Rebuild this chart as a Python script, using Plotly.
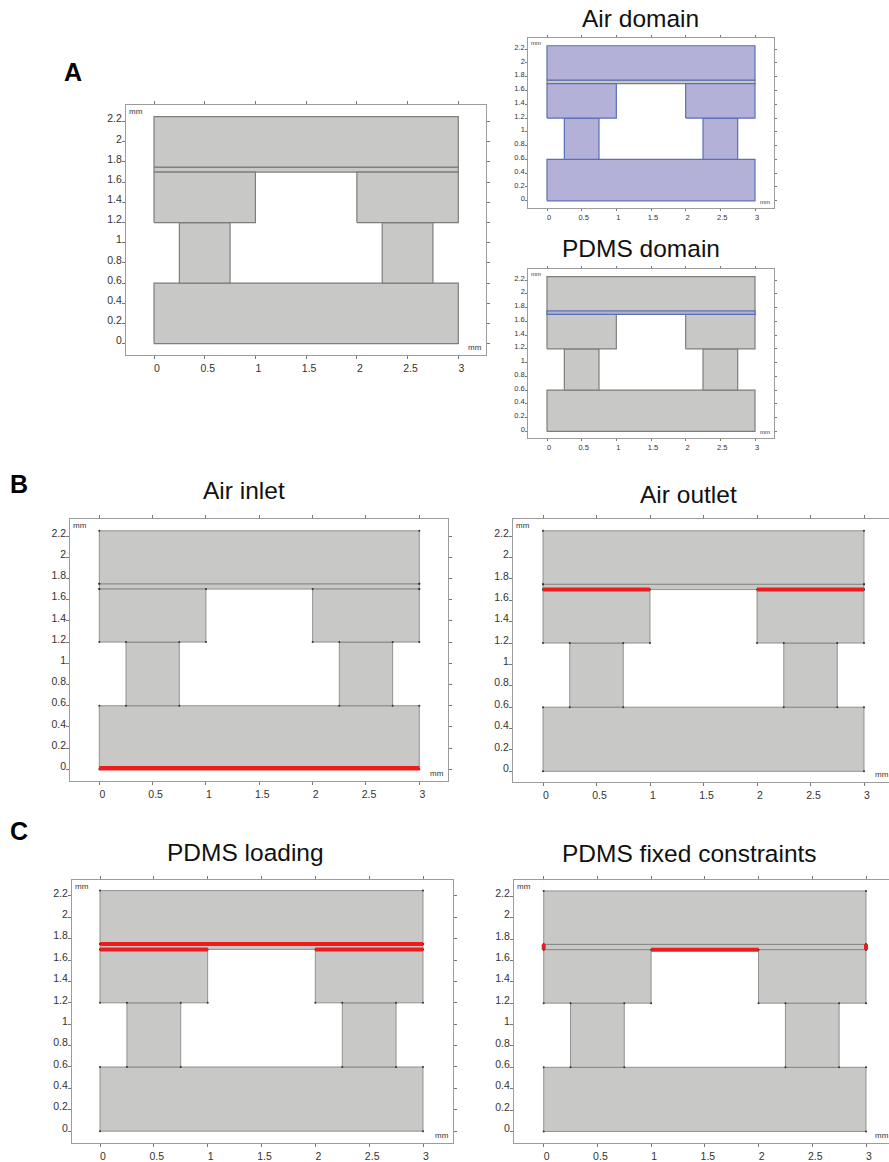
import plotly.graph_objects as go

# ---------- data (mm) ----------
Y_TICKS = [0, 0.2, 0.4, 0.6, 0.8, 1, 1.2, 1.4, 1.6, 1.8, 2, 2.2]
X_TICKS = [0, 0.5, 1, 1.5, 2, 2.5, 3]
Y_LABELS = ["0", "0.2", "0.4", "0.6", "0.8", "1", "1.2", "1.4", "1.6", "1.8", "2", "2.2"]
X_LABELS = ["0", "0.5", "1", "1.5", "2", "2.5", "3"]

BOTTOM_CH_X = [0, 3, 3, 0, 0]
BOTTOM_CH_Y = [0, 0, 0.6, 0.6, 0]
POST_L_X = [0.25, 0.75, 0.75, 0.25, 0.25]
POST_R_X = [2.25, 2.75, 2.75, 2.25, 2.25]
POST_Y = [0.6, 0.6, 1.2, 1.2, 0.6]
SHELF_L_X = [0, 1, 1, 0, 0]
SHELF_R_X = [2, 3, 3, 2, 2]
SHELF_Y = [1.2, 1.2, 1.7, 1.7, 1.2]
TOP_CH_X = [0, 3, 3, 0, 0]
TOP_CH_Y = [1.75, 1.75, 2.25, 2.25, 1.75]
MEMBRANE_X = [0, 3, 3, 0, 0]
MEMBRANE_Y = [1.7, 1.7, 1.75, 1.75, 1.7]

INLET_X, INLET_Y = [0, 3], [0.01, 0.01]
OUTLET_L_X, OUTLET_R_X, OUTLET_Y = [0, 1], [2, 3], [1.7, 1.7]
LOAD_TOP_X, LOAD_TOP_Y = [0, 3], [1.75, 1.75]
FIX_MID_X, FIX_MID_Y = [1, 2], [1.7, 1.7]
FIX_L_X, FIX_R_X, FIX_END_Y = [0, 0], [3, 3], [1.7, 1.75]

AIR_PARTS = [(BOTTOM_CH_X, BOTTOM_CH_Y), (POST_L_X, POST_Y), (POST_R_X, POST_Y),
             (SHELF_L_X, SHELF_Y), (SHELF_R_X, SHELF_Y), (TOP_CH_X, TOP_CH_Y)]
PDMS_PARTS = [(MEMBRANE_X, MEMBRANE_Y)]

# ---------- style / layout ----------
W, H = 889, 1162
GREY, GEDGE = "#c8c8c6", "#7d7d7b"
BLUE, BEDGE = "#b3b1d8", "#5a6fb8"
RED = "#ee1c1c"
FRAME = "#9c9c9c"
FONT = "Liberation Sans"

# frame l, r, t, b and the mm origin / mm-3 / mm-2.25 pixels
PANELS = {
    "A":   dict(f=(126, 485.7, 105.7, 357), x0=154, x3=458.3, y0=345.7, y2=117.3, fs=10.5),
    "Air": dict(f=(528.3, 774, 38.7, 209.7), x0=547, x3=755, y0=202, y2=46, fs=7.5),
    "PD":  dict(f=(528.3, 774, 270.7, 441), x0=547, x3=755, y0=434, y2=278.3, fs=7.5),
    "In":  dict(f=(70.3, 448.3, 522, 786), x0=99.3, x3=419.3, y0=774, y2=534, fs=10.5),
    "Out": dict(f=(513, 889, 522, 787), x0=543, x3=864, y0=776, y2=534, fs=10.5),
    "Lo":  dict(f=(72, 453, 885, 1150), x0=100, x3=423, y0=1138, y2=896, fs=10.5),
    "Fx":  dict(f=(514, 889, 885, 1150), x0=543.7, x3=866, y0=1138.3, y2=896.3, fs=10.5),
}

fig = go.Figure()
annotations = []


def rect(name, xa, ya, x, y, fill, edge, lw):
    fig.add_trace(go.Scatter(x=x, y=y, xaxis=xa, yaxis=ya, mode="lines", fill="toself",
                             fillcolor=fill, line=dict(color=edge, width=lw),
                             hoverinfo="skip", showlegend=False, name=name))


def line(xa, ya, x, y, width=4):
    fig.add_trace(go.Scatter(x=x, y=y, xaxis=xa, yaxis=ya, mode="lines",
                             line=dict(color=RED, width=width), hoverinfo="skip", showlegend=False))


layout = {}
for i, (key, p) in enumerate(PANELS.items(), start=1):
    l, r, t, b = p["f"]
    sx = (p["x3"] - p["x0"]) / 3
    sy = (p["y0"] - p["y2"]) / 2.25
    xn, yn = ("" if i == 1 else str(i)), ("" if i == 1 else str(i))
    xa, ya = "x" + xn, "y" + yn
    fs = p["fs"]
    big = fs > 8
    common = dict(showgrid=False, zeroline=False, showline=True, linecolor=FRAME,
                  linewidth=1.2 if big else 1, mirror="ticks", ticks="outside",
                  ticklen=3 if big else 2, tickcolor="#777", tickwidth=1,
                  tickfont=dict(family=FONT, size=fs, color="#333"))
    clipped = key in ("Out", "Fx")
    layout["xaxis" + xn] = dict(common, domain=[l / W, r / W], anchor=ya,
                                range=[(l - p["x0"]) / sx, (r - p["x0"]) / sx],
                                tickvals=X_TICKS, ticktext=X_LABELS, ticklabelshift=3 if big else 2)
    layout["yaxis" + yn] = dict(common, domain=[1 - b / H, 1 - t / H], anchor=xa,
                                range=[(p["y0"] - b) / sy, (p["y0"] - t) / sy],
                                tickvals=Y_TICKS, ticktext=Y_LABELS, ticklabelshift=-3 if big else -2,
                                ticklabelstandoff=-2 if big else -1,
                                mirror=False if clipped else "ticks")

    # geometry
    air_fill, air_edge = (BLUE, BEDGE) if key == "Air" else (GREY, GEDGE)
    pd_fill, pd_edge = (BLUE, BEDGE) if key == "PD" else (GREY, GEDGE)
    lw = 1.2 if key in ("A", "Air", "PD") else 0.8
    rect("membrane", xa, ya, MEMBRANE_X, MEMBRANE_Y, pd_fill, pd_edge, lw)
    for x, y in AIR_PARTS:
        rect("air", xa, ya, x, y, air_fill, air_edge, lw)
    if key == "PD":
        rect("membrane", xa, ya, MEMBRANE_X, MEMBRANE_Y, pd_fill, pd_edge, lw)

    # vertices
    if key in ("In", "Out", "Lo", "Fx"):
        vx, vy = [], []
        for x, y in AIR_PARTS + PDMS_PARTS:
            vx += x[:4]
            vy += y[:4]
        fig.add_trace(go.Scatter(x=vx, y=vy, xaxis=xa, yaxis=ya, mode="markers",
                                 marker=dict(size=2, color="#333"), hoverinfo="skip", showlegend=False))

    # highlighted boundaries
    if key == "In":
        line(xa, ya, INLET_X, INLET_Y, 4.5)
    if key in ("Out", "Lo"):
        line(xa, ya, OUTLET_L_X, OUTLET_Y)
        line(xa, ya, OUTLET_R_X, OUTLET_Y)
    if key == "Lo":
        line(xa, ya, LOAD_TOP_X, LOAD_TOP_Y)
    if key == "Fx":
        line(xa, ya, FIX_MID_X, FIX_MID_Y)
        line(xa, ya, FIX_L_X, FIX_END_Y, 4)
        line(xa, ya, FIX_R_X, FIX_END_Y, 4)

    # unit labels
    mm_size = 8 if big else 6
    annotations.append(dict(text="mm", showarrow=False, xref=xa + " domain", yref=ya + " domain",
                            x=0, y=1, xanchor="left", yanchor="top", xshift=2, yshift=-1, borderpad=0,
                            font=dict(family=FONT, size=mm_size, color="#333")))
    annotations.append(dict(text="mm", showarrow=False, xref="paper", yref="paper",
                            x=(r - 3 if not clipped else r + 1) / W, y=1 - (b - 2) / H,
                            xanchor="right", yanchor="bottom", borderpad=0,
                            font=dict(family=FONT, size=mm_size, color="#333")))

TITLES = [("Air domain", 640, 19), ("PDMS domain", 641, 250), ("Air inlet", 244, 493),
          ("Air outlet", 688, 497), ("PDMS loading", 245, 858), ("PDMS fixed constraints", 689, 859)]
for text, px, py in TITLES:
    annotations.append(dict(text=text, showarrow=False, xref="paper", yref="paper", x=px / W, y=1 - py / H,
                            xanchor="center", yanchor="middle",
                            font=dict(family=FONT, size=24.5, color="#111")))
LETTERS = [("A", 73, 72), ("B", 19, 487), ("C", 19, 836)]
for text, px, py in LETTERS:
    annotations.append(dict(text="<b>" + text + "</b>", showarrow=False, xref="paper", yref="paper",
                            x=px / W, y=1 - py / H, xanchor="center", yanchor="middle",
                            font=dict(family=FONT, size=25, color="#000")))

fig.update_layout(width=W, height=H, autosize=False, margin=dict(l=0, r=0, t=0, b=0),
                  paper_bgcolor="white", plot_bgcolor="white", annotations=annotations, **layout)
fig.write_html("out.html", post_script="document.body.style.margin='0';document.body.style.overflow='hidden';document.documentElement.style.overflow='hidden';",
               config={"displayModeBar": False})
